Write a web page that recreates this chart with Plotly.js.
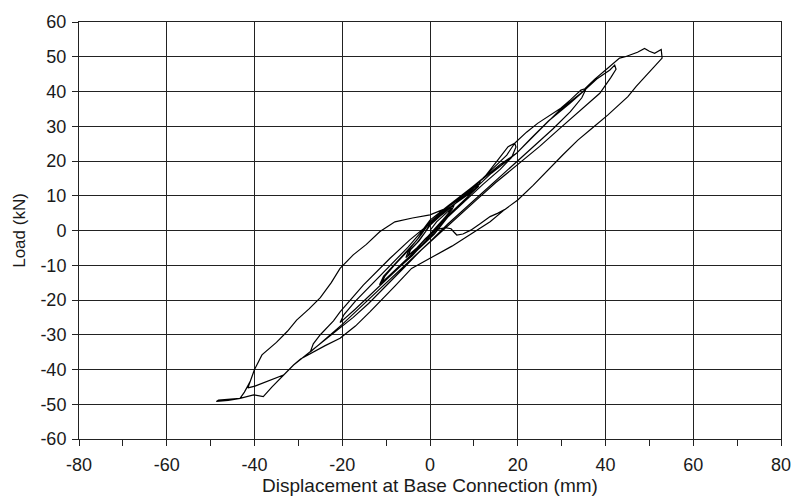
<!DOCTYPE html>
<html><head><meta charset="utf-8">
<script src="https://cdn.plot.ly/plotly-3.0.1.min.js"></script>
<style>html,body{margin:0;padding:0;background:#fff}</style>
</head><body><div id="chart" style="width:798px;height:497px"></div>
<script>
// Axis ticks
const xTickVals = [-80, -60, -40, -20, 0, 20, 40, 60, 80];
const xTickText = ['-80', '-60', '-40', '-20', '0', '20', '40', '60', '80'];
const yTickVals = [-60, -50, -40, -30, -20, -10, 0, 10, 20, 30, 40, 50, 60];
const yTickText = ['-60', '-50', '-40', '-30', '-20', '-10', '0', '10', '20', '30', '40', '50', '60'];
const xMinorVals = [-70, -50, -30, -10, 10, 30, 50, 70];

// Hysteresis branches (displacement mm, load kN)
const cyc5X = [0,1.5,3,5,4.2,2.5,1,-1,-3,-5,-4.4,-2.5,-1,0,2,4,5.5,5,3,1,-1,-3,-5.5,-5,-3,-1,0];
const cyc5Y = [0,2.5,4.2,6.5,5,2.5,0,-2.3,-5,-7.2,-5.5,-3,-0.5,1.5,3.8,6,7.3,6,3.2,0.4,-2.6,-5.2,-7.8,-6.2,-3.6,-0.3,2];

const cyc10X = [3,6,9,11,10.3,8,5,2,0,-3,-6,-9,-11,-10.3,-8,-5,-2,0,3,6,9,11.5,11,8,4,1,-1,-4,-8,-11.5,-10.6,-7,-3,0];
const cyc10Y = [4.8,8,11,13.5,12,8.8,5.2,1.2,-2,-5.5,-9,-12.5,-15,-13.2,-9.8,-5.8,-1.2,2.5,5.6,8.7,11.6,14.3,12.6,9.1,4.2,0.2,-3,-7.2,-11.6,-15.6,-13.2,-8.3,-2.8,3];

const cyc20X = [4,8,12,15,17.5,19.3,19.6,18.6,16,12,8,4,1,-2,-6,-10,-14,-17,-20.5,-19.6,-17,-13,-9,-5,-2,0];
const cyc20Y = [6.8,10.8,15,18.5,21.7,25.1,24,21,17.6,13.2,8.6,3.8,-1,-4.6,-9.6,-14.2,-19.2,-22.6,-26.5,-24.2,-20.3,-15.2,-10.2,-4.8,-0.4,3];

const cyc35X = [4,8,12,16,19.7,23,27,31.9,34.9,35.5,34.6,32,28,24,20,16,12,8,4,0,-4,-8,-12,-16,-20,-24,-27.3,-26.6,-25,-22,-20.5,-15.2,-12,-9.1,-4.6,0];
const cyc35Y = [7,10.8,14.8,19,22.2,26.5,31.5,36.6,40,40.6,38.2,34.2,29.2,24.6,20.2,15.6,10.8,6.3,1.8,-3.2,-8,-12.6,-17.4,-22.2,-27,-31.4,-35,-32.6,-30,-26,-23.4,-15.7,-11.5,-8,-2.7,2.2];

const cyc42LoadX = [4,9.1,14,19.7,24,29.6,34.9,38,41,42.1];
const cyc42LoadY = [6.2,10.7,16.5,22.2,27.6,34.7,40,43.6,46.2,47.6];

const cyc42UnloadX = [42.4,41.2,38.7,34,29.6,25,20,15,10.6,6,2,-2,-6,-10,-14,-17.5,-22,-27.3,-31.1,-33.4,-36.1,-39.9,-41.5];
const cyc42UnloadY = [46.4,44,39.5,34.4,29.4,24.2,19,13.8,8.8,3.6,-1.2,-5.6,-10.8,-15.8,-21,-25,-29.6,-34.9,-38.7,-41.6,-43,-44.8,-45.3];

const outerReloadX = [-41,-40,-38.3,-35,-32.5,-30.4,-27.5,-25,-22.5,-20.5,-17.5,-14.5,-11.4,-8,-4,0,3.5,7.2,10,12.5,15,17.8,19.3,22,24.6,27.2,29.8,32,34.4,35.3,37.5,40.5,43.2,44.5,45.8,47.3,48.9,50,51.2,52.7,52.9];
const outerReloadY = [-43.5,-40,-35.8,-32.2,-29,-25.8,-22.5,-19.3,-15,-10.9,-7,-4,-0.3,2.5,3.6,4.5,6.3,9.5,12.5,15.5,19.5,24.1,25.1,28.3,30.9,33,35.2,37.6,40.4,40.8,43.5,46.7,49.6,50,50.5,51.3,52.4,51.6,51,52.1,49.6];

const outerUnloadX = [51,49,47,45.1,42.5,40.5,37,33.7,30.3,26.9,23.5,20,17];
const outerUnloadY = [47,44.5,41.5,38.5,35.5,33.2,29.5,26,21.8,17.4,13,8.8,6];

const lowerNegX = [13.7,9.5,5,0,-4.2,-8,-11,-13.7,-17,-20.5,-24,-27.3,-29.5,-31.1,-34.2,-36,-38,-40.2,-43.3,-45.5,-48.2,-48.7];
const lowerNegY = [2.5,-0.8,-4.5,-8,-10.9,-16,-20,-23.4,-27.5,-31,-33.2,-35.5,-37,-38.7,-42.5,-45,-47.8,-47.3,-48.3,-48.6,-48.8,-49.2];

const tipReturnX = [-46,-43.3,-42.3];
const tipReturnY = [-48.9,-48.3,-46.5];

const finalUnloadX = [15.5,13.7,11.5,9.3,7.5,6.1,5.5,4.8,3.5,2,1.2];
const finalUnloadY = [5,4,2,0.1,-1,-1.3,-0.5,0.5,0.8,0.4,0.7];

// Test sequence
const seqX = [cyc5X, cyc10X, cyc20X, cyc35X, cyc42LoadX, cyc42UnloadX, outerReloadX, outerUnloadX, lowerNegX, tipReturnX, outerReloadX, outerUnloadX, finalUnloadX];
const seqY = [cyc5Y, cyc10Y, cyc20Y, cyc35Y, cyc42LoadY, cyc42UnloadY, outerReloadY, outerUnloadY, lowerNegY, tipReturnY, outerReloadY, outerUnloadY, finalUnloadY];
const xs = [].concat(...seqX);
const ys = [].concat(...seqY);

const font = '"Liberation Sans", Arial, Helvetica, sans-serif';
const ink = '#1a1a1a';

const trace = {
  x: xs, y: ys, type: 'scatter', mode: 'lines',
  line: {color: '#000', width: 1.2},
  hoverinfo: 'skip'
};

const layout = {
  width: 798, height: 497,
  margin: {l: 79, r: 17, t: 22, b: 58},
  paper_bgcolor: '#fff', plot_bgcolor: '#fff',
  font: {family: font, size: 18, color: ink},
  showlegend: false,
  xaxis: {
    range: [-80, 80], tickmode: 'array', tickvals: xTickVals, ticktext: xTickText,
    showgrid: true, gridcolor: '#222', gridwidth: 1,
    zeroline: false, showline: true, linecolor: '#222', linewidth: 1, mirror: true,
    ticks: 'outside', ticklen: 6, tickcolor: '#222', tickwidth: 1,
    minor: {tickmode: 'array', tickvals: xMinorVals, ticks: 'outside', ticklen: 6, tickcolor: '#222', showgrid: false},
    ticklabelstandoff: 3,
    title: {text: 'Displacement at Base Connection (mm)', font: {size: 19, family: font, color: ink}, standoff: 2},
    fixedrange: true
  },
  yaxis: {
    range: [-60, 60], tickmode: 'array', tickvals: yTickVals, ticktext: yTickText,
    showgrid: true, gridcolor: '#222', gridwidth: 1,
    zeroline: false, showline: true, linecolor: '#222', linewidth: 1, mirror: true,
    ticks: 'outside', ticklen: 6, tickcolor: '#222', tickwidth: 1,
    ticklabelstandoff: 2,
    title: {text: 'Load (kN)', font: {size: 17, family: font, color: ink}, standoff: 10},
    fixedrange: true
  }
};

Plotly.newPlot('chart', [trace], layout, {staticPlot: true, displayModeBar: false});
</script>
</body></html>
